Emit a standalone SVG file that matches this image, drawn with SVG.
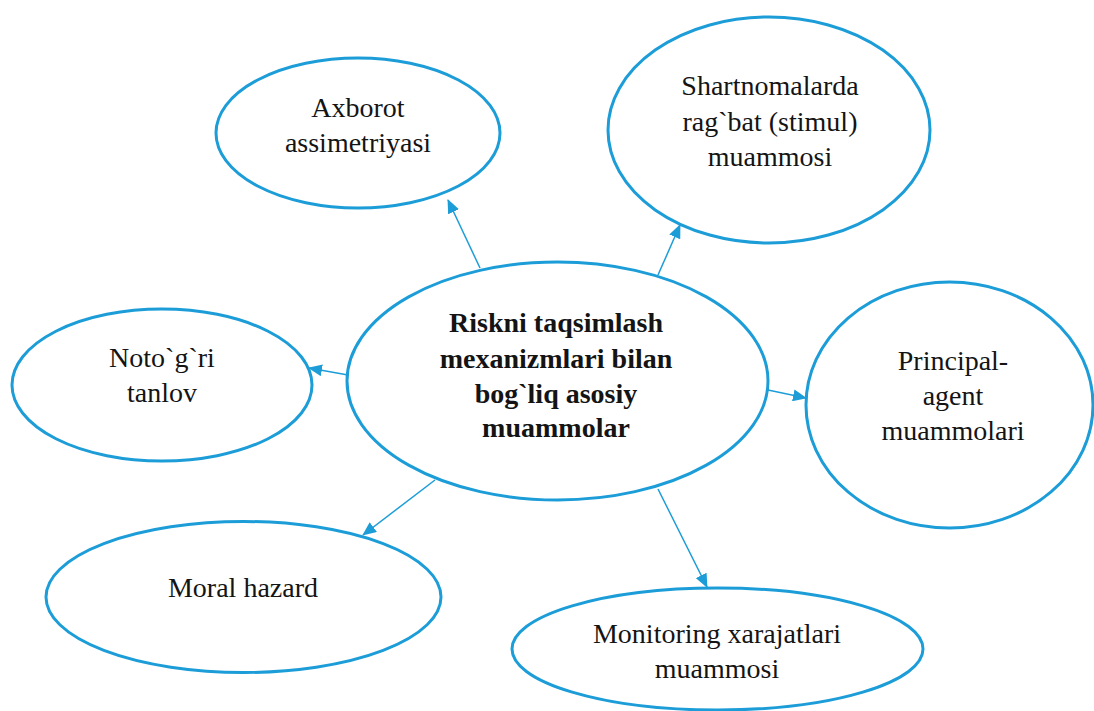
<svg xmlns="http://www.w3.org/2000/svg" width="1094" height="711" viewBox="0 0 1094 711">
<defs>
<style>
.node ellipse{fill:#fff;stroke:#1C9DD8;stroke-width:3}
.node text{font-size:28px;fill:#141414;text-anchor:middle}
.node.main text{font-weight:bold}
.conn line{stroke:#1C9DD8;stroke-width:1.5;marker-end:url(#arr)}
</style>
<marker id="arr" markerUnits="userSpaceOnUse" markerWidth="14" markerHeight="12" refX="13" refY="6" orient="auto" viewBox="0 0 14 12">
<path d="M0,0 L14,6 L0,12 z" fill="#1C9DD8"/>
</marker>
</defs>
<rect width="1094" height="711" fill="#fff"/>
<g id="connectors" class="conn">
<line x1="480" y1="268" x2="448" y2="200"/>
<line x1="658" y1="275" x2="680" y2="225"/>
<line x1="348" y1="375" x2="309" y2="368"/>
<line x1="768" y1="390" x2="806" y2="398"/>
<line x1="435" y1="480" x2="363" y2="535"/>
<line x1="658" y1="489" x2="707" y2="587"/>
</g>
<g font-family="Liberation Serif, Times New Roman, DejaVu Serif, serif">
<g id="node-main" class="node main">
<ellipse cx="557.5" cy="381" rx="210.5" ry="119"/>
<text x="556" y="332">Riskni taqsimlash</text>
<text x="556" y="368">mexanizmlari bilan</text>
<text x="556" y="403">bog`liq asosiy</text>
<text x="556" y="437">muammolar</text>
</g>
<g id="node-axborot" class="node">
<ellipse cx="358" cy="133" rx="142" ry="75"/>
<text x="358" y="117">Axborot</text>
<text x="358" y="152">assimetriyasi</text>
</g>
<g id="node-shartnoma" class="node">
<ellipse cx="769" cy="130" rx="161" ry="113"/>
<text x="770" y="95">Shartnomalarda</text>
<text x="770" y="131">rag`bat (stimul)</text>
<text x="770" y="166">muammosi</text>
</g>
<g id="node-noto" class="node">
<ellipse cx="162" cy="385" rx="150" ry="76"/>
<text x="162" y="367">Noto`g`ri</text>
<text x="162" y="402">tanlov</text>
</g>
<g id="node-principal" class="node">
<ellipse cx="949.5" cy="405" rx="143.5" ry="123"/>
<text x="953" y="370">Principal-</text>
<text x="953" y="405">agent</text>
<text x="953" y="440">muammolari</text>
</g>
<g id="node-moral" class="node">
<ellipse cx="243.5" cy="597" rx="197.5" ry="75.5"/>
<text x="243" y="597">Moral hazard</text>
</g>
<g id="node-monitoring" class="node">
<ellipse cx="717.5" cy="649" rx="205.5" ry="61"/>
<text x="717" y="643">Monitoring xarajatlari</text>
<text x="717" y="678">muammosi</text>
</g>
</g>
</svg>
